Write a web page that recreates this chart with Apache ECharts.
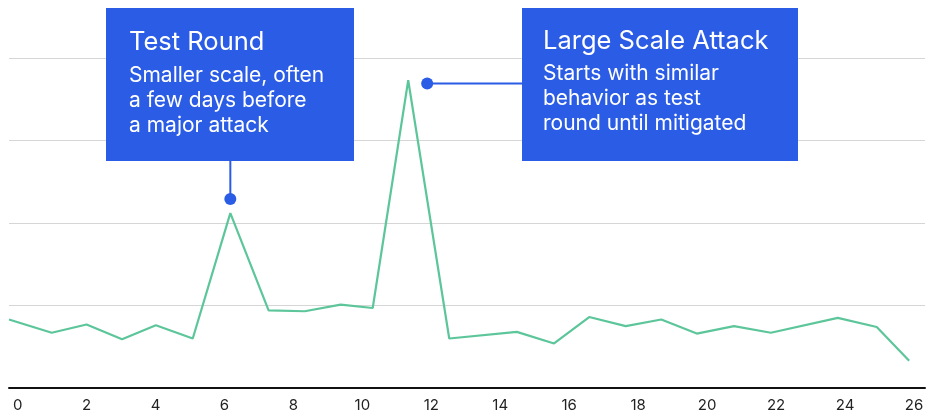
<!DOCTYPE html>
<html>
<head>
<meta charset="utf-8">
<script src="https://cdn.jsdelivr.net/npm/echarts@6/dist/echarts.min.js"></script>
<style>
  html, body { margin: 0; padding: 0; background: #fff; }
  #chart { width: 931px; height: 417px; }
</style>
</head>
<body>
<div id="chart"></div>
<script>
// x position of each reading (days) and the traffic level
var days = [-0.25, 0.99, 2.00, 3.03, 4.01, 5.08, 6.17, 7.28, 8.33, 9.37, 10.30, 11.33, 12.52,
            14.48, 15.56, 16.58, 17.64, 18.67, 19.70, 20.78, 21.85, 23.79, 24.92, 25.86];
var traffic = [0.83, 0.67, 0.77, 0.59, 0.76, 0.60, 2.12, 0.94, 0.93, 1.01, 0.97, 3.73, 0.60,
               0.68, 0.54, 0.86, 0.75, 0.83, 0.66, 0.75, 0.67, 0.85, 0.74, 0.33];
var xTicks = [0, 2, 4, 6, 8, 10, 12, 14, 16, 18, 20, 22, 24, 26];

// annotation anchors (data coords) and their boxes
var notes = [
    { title: 'Test Round', lines: ['Smaller scale, often', 'a few days before', 'a major attack'],
      anchor: [6.17, 2.29], box: [106, 8, 248, 153], textX: 129, titleY: 42.5, bodyY: 63.3, link: 'down' },
    { title: 'Large Scale Attack', lines: ['Starts with similar', 'behavior as test', 'round until mitigated'],
      anchor: [11.88, 3.69], box: [522, 8, 276, 153], textX: 543, titleY: 41, bodyY: 61, link: 'right' }
];

var blue = '#2b5ce6';
var points = days.map(function (d, i) { return [d, traffic[i]]; });

var chart = echarts.init(document.getElementById('chart'));
chart.setOption({
    animation: false,
    grid: { left: 9, right: 6, top: 58, bottom: 29, containLabel: false },
    xAxis: {
        type: 'value',
        min: -0.25,
        max: 26.32,
        axisLine: { lineStyle: { color: '#111', width: 2 } },
        axisTick: { show: false },
        splitLine: { show: false },
        axisLabel: {
            customValues: xTicks,
            color: '#222',
            fontFamily: 'Inter',
            fontSize: 15,
            margin: 10
        }
    },
    yAxis: {
        type: 'value',
        min: 0,
        max: 4,
        interval: 1,
        axisLine: { show: false },
        axisTick: { show: false },
        axisLabel: { show: false },
        splitLine: { lineStyle: { color: '#d6d6d6', width: 1 } }
    },
    series: [{
        type: 'line',
        data: points,
        showSymbol: false,
        lineStyle: { color: '#5cc69a', width: 2.2 }
    }]
});

var elements = [];
notes.forEach(function (n) {
    var p = chart.convertToPixel({ gridIndex: 0 }, n.anchor);
    var b = n.box;
    if (n.link === 'down') {
        elements.push({ type: 'line', shape: { x1: p[0], y1: b[1] + b[3], x2: p[0], y2: p[1] },
            style: { stroke: blue, lineWidth: 2 } });
    } else {
        elements.push({ type: 'line', shape: { x1: p[0], y1: p[1], x2: b[0], y2: p[1] },
            style: { stroke: blue, lineWidth: 2 } });
    }
    elements.push({ type: 'circle', shape: { cx: p[0], cy: p[1], r: 6 }, style: { fill: blue } });
    elements.push({ type: 'rect', shape: { x: b[0], y: b[1], width: b[2], height: b[3] }, style: { fill: blue } });
    elements.push({ type: 'text', x: n.textX, y: n.titleY,
        style: { text: n.title, fill: '#fff', font: '25.5px Inter', verticalAlign: 'middle' } });
    elements.push({ type: 'text', x: n.textX, y: n.bodyY,
        style: { text: n.lines.join('\n'), fill: '#fff', font: '21px Inter', lineHeight: 25, verticalAlign: 'top' } });
});
chart.setOption({ graphic: { elements: elements } });
</script>
</body>
</html>
